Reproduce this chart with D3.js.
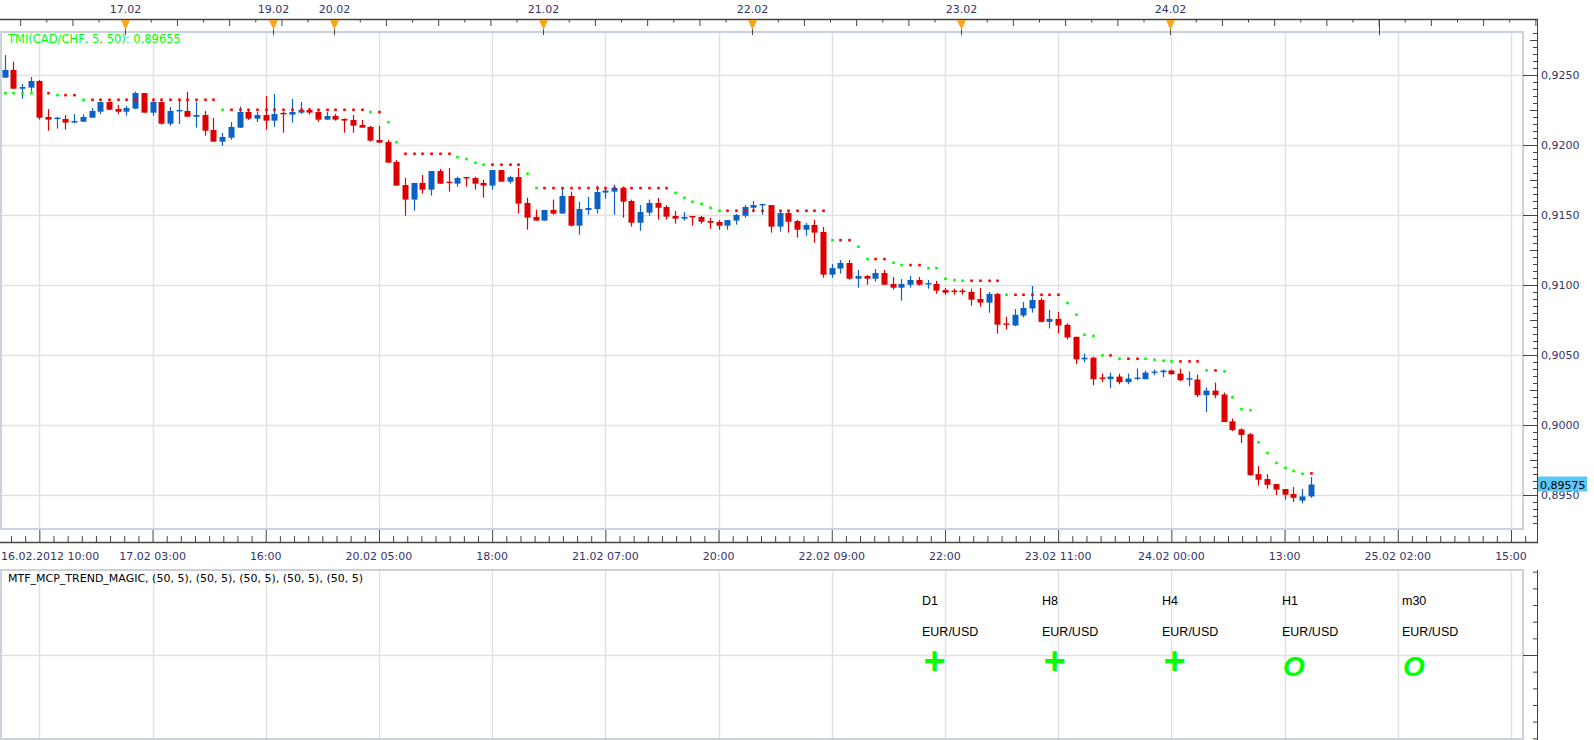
<!DOCTYPE html>
<html>
<head>
<meta charset="utf-8">
<script src="https://cdn.jsdelivr.net/npm/d3@7"></script>
<style>
  body { margin: 0; background: #fff; }
  svg text { font-family: "DejaVu Sans", sans-serif; }
</style>
</head>
<body>
<svg id="chart" width="1594" height="740"></svg>
<script>
// CAD/CHF H1 candles, 16.02.2012 10:00 onwards (bar index 0..150)
const openP = [0.92481,0.92536,0.92402,0.92410,0.92457,0.92200,0.92190,0.92186,0.92160,0.92167,
  0.92195,0.92238,0.92307,0.92257,0.92238,0.92260,0.92371,0.92231,0.92307,0.92152,
  0.92245,0.92243,0.92202,0.92214,0.92107,0.92024,0.92052,0.92124,0.92236,0.92188,
  0.92214,0.92174,0.92229,0.92217,0.92231,0.92250,0.92236,0.92181,0.92207,0.92186,
  0.92179,0.92143,0.92129,0.92036,0.92021,0.91879,0.91714,0.91610,0.91729,0.91681,
  0.91814,0.91738,0.91724,0.91771,0.91764,0.91729,0.91710,0.91821,0.91738,0.91771,
  0.91586,0.91486,0.91460,0.91536,0.91510,0.91636,0.91424,0.91536,0.91543,0.91660,
  0.91667,0.91693,0.91600,0.91445,0.91517,0.91586,0.91557,0.91493,0.91474,0.91493,
  0.91486,0.91457,0.91450,0.91424,0.91460,0.91495,0.91552,0.91574,0.91571,0.91417,
  0.91514,0.91457,0.91395,0.91429,0.91379,0.91074,0.91117,0.91157,0.91045,0.91064,
  0.91045,0.91086,0.91007,0.90981,0.91002,0.91036,0.91007,0.91007,0.90964,0.90960,
  0.90960,0.90950,0.90900,0.90874,0.90936,0.90725,0.90711,0.90782,0.90832,0.90893,
  0.90737,0.90758,0.90716,0.90630,0.90469,0.90481,0.90339,0.90327,0.90346,0.90306,
  0.90334,0.90327,0.90372,0.90377,0.90389,0.90367,0.90327,0.90325,0.90213,0.90246,
  0.90218,0.90026,0.89969,0.89934,0.89649,0.89614,0.89578,0.89543,0.89507,0.89460,
  0.89490];
const highP = [0.92643,0.92595,0.92436,0.92486,0.92464,0.92257,0.92200,0.92214,0.92221,0.92219,
  0.92264,0.92310,0.92312,0.92286,0.92279,0.92381,0.92371,0.92314,0.92310,0.92271,
  0.92321,0.92379,0.92310,0.92243,0.92193,0.92086,0.92164,0.92274,0.92250,0.92236,
  0.92350,0.92364,0.92236,0.92329,0.92307,0.92264,0.92240,0.92236,0.92221,0.92190,
  0.92214,0.92179,0.92136,0.92136,0.92036,0.91893,0.91764,0.91729,0.91786,0.91814,
  0.91829,0.91836,0.91774,0.91771,0.91774,0.91750,0.91821,0.91821,0.91779,0.91836,
  0.91624,0.91538,0.91536,0.91610,0.91695,0.91667,0.91595,0.91629,0.91710,0.91688,
  0.91717,0.91702,0.91610,0.91571,0.91610,0.91621,0.91571,0.91529,0.91521,0.91493,
  0.91493,0.91479,0.91464,0.91464,0.91507,0.91571,0.91600,0.91579,0.91571,0.91529,
  0.91521,0.91464,0.91443,0.91464,0.91414,0.91150,0.91179,0.91179,0.91107,0.91071,
  0.91114,0.91107,0.91057,0.91043,0.91064,0.91057,0.91036,0.91029,0.90979,0.90974,
  0.90974,0.90974,0.90979,0.90950,0.90945,0.90773,0.90829,0.90879,0.90993,0.90908,
  0.90822,0.90808,0.90725,0.90630,0.90509,0.90488,0.90367,0.90374,0.90367,0.90367,
  0.90403,0.90389,0.90396,0.90396,0.90396,0.90403,0.90382,0.90360,0.90268,0.90303,
  0.90232,0.90047,0.89976,0.89943,0.89706,0.89649,0.89578,0.89543,0.89557,0.89543,
  0.89628];
const lowP = [0.92481,0.92402,0.92331,0.92381,0.92181,0.92102,0.92117,0.92110,0.92157,0.92164,
  0.92195,0.92221,0.92248,0.92221,0.92210,0.92257,0.92231,0.92210,0.92145,0.92138,
  0.92150,0.92200,0.92124,0.92067,0.92024,0.91995,0.92038,0.92121,0.92179,0.92164,
  0.92110,0.92131,0.92088,0.92160,0.92221,0.92217,0.92167,0.92181,0.92174,0.92088,
  0.92088,0.92124,0.92024,0.92017,0.91874,0.91710,0.91495,0.91531,0.91652,0.91638,
  0.91721,0.91667,0.91702,0.91702,0.91681,0.91624,0.91681,0.91738,0.91724,0.91510,
  0.91395,0.91460,0.91460,0.91502,0.91510,0.91417,0.91360,0.91502,0.91510,0.91617,
  0.91502,0.91481,0.91417,0.91388,0.91495,0.91467,0.91467,0.91438,0.91460,0.91424,
  0.91438,0.91402,0.91395,0.91395,0.91431,0.91481,0.91529,0.91502,0.91374,0.91381,
  0.91374,0.91338,0.91352,0.91302,0.91052,0.91052,0.91081,0.91038,0.90981,0.91002,
  0.91024,0.91002,0.90967,0.90888,0.90981,0.90995,0.90974,0.90938,0.90931,0.90931,
  0.90931,0.90852,0.90845,0.90802,0.90652,0.90682,0.90706,0.90768,0.90803,0.90732,
  0.90690,0.90654,0.90611,0.90434,0.90448,0.90284,0.90306,0.90263,0.90291,0.90291,
  0.90320,0.90327,0.90355,0.90341,0.90358,0.90313,0.90277,0.90199,0.90092,0.90192,
  0.90021,0.89957,0.89872,0.89637,0.89566,0.89545,0.89498,0.89467,0.89450,0.89440,
  0.89480];
const closeP = [0.92536,0.92402,0.92414,0.92457,0.92195,0.92181,0.92195,0.92160,0.92171,0.92200,
  0.92243,0.92307,0.92252,0.92238,0.92264,0.92371,0.92231,0.92307,0.92152,0.92243,
  0.92250,0.92202,0.92214,0.92102,0.92024,0.92057,0.92129,0.92236,0.92188,0.92214,
  0.92174,0.92221,0.92224,0.92236,0.92250,0.92231,0.92181,0.92207,0.92181,0.92174,
  0.92138,0.92124,0.92031,0.92017,0.91874,0.91710,0.91610,0.91729,0.91681,0.91814,
  0.91724,0.91733,0.91764,0.91767,0.91724,0.91710,0.91821,0.91738,0.91771,0.91581,
  0.91481,0.91460,0.91536,0.91510,0.91636,0.91424,0.91543,0.91550,0.91664,0.91674,
  0.91693,0.91595,0.91445,0.91521,0.91586,0.91552,0.91488,0.91474,0.91486,0.91488,
  0.91452,0.91445,0.91424,0.91464,0.91500,0.91557,0.91571,0.91579,0.91417,0.91514,
  0.91452,0.91395,0.91429,0.91374,0.91074,0.91121,0.91157,0.91045,0.91064,0.91045,
  0.91086,0.91002,0.90981,0.91007,0.91036,0.91002,0.91014,0.90960,0.90945,0.90955,
  0.90955,0.90895,0.90874,0.90936,0.90717,0.90720,0.90787,0.90836,0.90893,0.90737,
  0.90758,0.90711,0.90626,0.90469,0.90481,0.90327,0.90334,0.90346,0.90306,0.90332,
  0.90339,0.90374,0.90382,0.90389,0.90363,0.90320,0.90334,0.90213,0.90246,0.90213,
  0.90021,0.89964,0.89929,0.89642,0.89609,0.89573,0.89538,0.89502,0.89480,0.89490,
  0.89575];

// Trend Magic level per bar and its colour (1 = green, 0 = red)
const tmiLevel = [0.92371,0.92371,0.92371,0.92371,0.92371,0.92371,0.92357,0.92357,0.92357,0.92324,
  0.92324,0.92324,0.92324,0.92324,0.92324,0.92324,0.92324,0.92324,0.92324,0.92324,
  0.92324,0.92324,0.92324,0.92324,0.92324,0.92252,0.92252,0.92252,0.92252,0.92252,
  0.92252,0.92252,0.92252,0.92252,0.92252,0.92252,0.92252,0.92252,0.92252,0.92252,
  0.92252,0.92252,0.92236,0.92236,0.92164,0.92021,0.91938,0.91938,0.91938,0.91938,
  0.91938,0.91938,0.91914,0.91900,0.91874,0.91860,0.91860,0.91860,0.91860,0.91860,
  0.91795,0.91693,0.91693,0.91693,0.91693,0.91693,0.91693,0.91693,0.91693,0.91693,
  0.91693,0.91693,0.91693,0.91693,0.91693,0.91693,0.91693,0.91659,0.91624,0.91595,
  0.91581,0.91552,0.91531,0.91531,0.91531,0.91531,0.91531,0.91531,0.91531,0.91531,
  0.91531,0.91531,0.91531,0.91531,0.91531,0.91321,0.91321,0.91321,0.91274,0.91186,
  0.91186,0.91186,0.91160,0.91143,0.91143,0.91143,0.91121,0.91121,0.91045,0.91036,
  0.91031,0.91031,0.91031,0.91031,0.91031,0.90931,0.90931,0.90931,0.90931,0.90931,
  0.90931,0.90931,0.90872,0.90789,0.90645,0.90637,0.90498,0.90498,0.90474,0.90474,
  0.90474,0.90474,0.90467,0.90460,0.90455,0.90455,0.90455,0.90455,0.90391,0.90391,
  0.90384,0.90199,0.90114,0.90107,0.89877,0.89801,0.89730,0.89694,0.89673,0.89652,
  0.89655];
const tmiUp = [1,1,1,1,0,0,1,0,0,1, 0,0,0,0,0,0,0,0,0,0, 0,0,0,0,0,1,0,0,0,0,
  0,0,0,0,0,0,0,0,0,0, 0,0,1,0,1,1,0,0,0,0, 0,0,1,1,1,1,0,0,0,0,
  1,1,0,0,0,0,0,0,0,0, 0,0,0,0,0,0,0,1,1,1, 1,1,1,0,0,0,0,0,0,0,
  0,0,0,0,0,1,0,0,1,1, 0,0,1,1,0,0,1,1,1,1, 1,0,0,0,0,1,0,0,0,0,
  0,0,1,1,1,1,1,0,1,0, 0,1,1,1,1,0,0,0,1,0, 1,1,1,1,1,1,1,1,1,1, 0];

// time axis
const gridBars = [4,17,30,43,56,69,82,95,108,121,134,147,160,173];
const timeLabels = ["16.02.2012 10:00","17.02 03:00","16:00","20.02 05:00","18:00","21.02 07:00",
  "20:00","22.02 09:00","22:00","23.02 11:00","24.02 00:00","13:00","25.02 02:00","15:00"];
const dayBars = [14,31,38,62,86,110,134,158];
const dayLabels = ["17.02","19.02","20.02","21.02","22.02","23.02","24.02",""];

// price axis
const priceTicks = [0.895,0.900,0.905,0.910,0.915,0.920,0.925];
const lastPrice = 0.89575;
const tmiTitle = "TMI(CAD/CHF, 5, 50): 0,89655";

// lower panel
const subTitle = "MTF_MCP_TREND_MAGIC, (50, 5), (50, 5), (50, 5), (50, 5), (50, 5)";
const tfLabels = ["D1","H8","H4","H1","m30"];
const pairLabel = "EUR/USD";
const signals = ["+","+","+","O","O"];

// ---------------------------------------------------------------
const svg = d3.select("#chart");
const loc = d3.formatLocale({decimal: ",", thousands: " ", grouping: [3], currency: ["", ""]});
const fmt4 = loc.format(".4f"), fmt5 = loc.format(".5f");

const P = {l: 0, r: 1523, t: 32, b: 529};   // price panel
const S = {t: 570, b: 739};                 // indicator panel
const AX = 1537;                            // right axis line
const navy = "#33336b", grid = "#e1e1e1", frame = "#cbd2dc";
const upCol = "#0a62c4", dnCol = "#dd0000";

const x = d3.scaleLinear().domain([0, 150]).range([4.5, 1310.7]);
const y = d3.scaleLinear().domain([0.895, 0.925]).range([495, 75]);
const sub = d3.scaleLinear().domain([0, 1]).range([738.3, 571.7]);
const colX = d3.scalePoint().domain(tfLabels).range([922, 1402]);
const px = v => Math.round(v) + 0.5;

const bars = openP.map((o, i) => ({i, o, h: highP[i], l: lowP[i], c: closeP[i]}));

// grid
function vGrid(top, bottom) {
  svg.append("g").selectAll("line").data(gridBars).join("line")
    .attr("x1", d => px(x(d))).attr("x2", d => px(x(d)))
    .attr("y1", top).attr("y2", bottom)
    .attr("stroke", grid).attr("stroke-width", 1.5);
}
vGrid(P.t, P.b);
vGrid(S.t, S.b);
svg.append("g").selectAll("line").data(priceTicks).join("line")
  .attr("x1", P.l).attr("x2", P.r)
  .attr("y1", d => px(y(d))).attr("y2", d => px(y(d)))
  .attr("stroke", grid).attr("stroke-width", 1.5);
svg.append("line").attr("x1", P.l).attr("x2", P.r)
  .attr("y1", px(sub(0.5))).attr("y2", px(sub(0.5)))
  .attr("stroke", grid).attr("stroke-width", 1.5);

// panel frames
svg.append("rect").attr("x", 1).attr("y", P.t).attr("width", P.r - 1).attr("height", P.b - P.t)
  .attr("fill", "none").attr("stroke", frame).attr("stroke-width", 2);
svg.append("rect").attr("x", 1).attr("y", S.t).attr("width", P.r - 1).attr("height", S.b - S.t)
  .attr("fill", "none").attr("stroke", frame).attr("stroke-width", 2);

// candles
svg.append("clipPath").attr("id", "clip").append("rect")
  .attr("x", P.l).attr("y", P.t).attr("width", P.r - P.l).attr("height", P.b - P.t);
const plot = svg.append("g").attr("clip-path", "url(#clip)");
const cg = plot.selectAll("g.bar").data(bars).join("g").attr("class", "bar");
cg.append("line")
  .attr("x1", d => px(x(d.i))).attr("x2", d => px(x(d.i)))
  .attr("y1", d => y(d.h)).attr("y2", d => y(d.l))
  .attr("stroke", d => d.c >= d.o ? upCol : dnCol).attr("stroke-width", 1.2);
cg.append("rect")
  .attr("x", d => Math.round(x(d.i)) - 2.5)
  .attr("width", 6)
  .attr("y", d => y(Math.max(d.o, d.c)))
  .attr("height", d => Math.max(1.4, Math.abs(y(d.o) - y(d.c))))
  .attr("fill", d => d.c >= d.o ? upCol : dnCol);

// trend magic dots
plot.selectAll("rect.tmi").data(tmiLevel).join("rect").attr("class", "tmi")
  .attr("x", (d, i) => Math.round(x(i)) - 0.8).attr("y", d => y(d) - 1.2)
  .attr("width", 2.6).attr("height", 2.6)
  .attr("fill", (d, i) => tmiUp[i] ? "#00ff00" : "#ff0000");

svg.append("text").attr("x", 8).attr("y", 43).attr("font-size", 11.5)
  .attr("fill", "#00ff00").text(tmiTitle);

// right price axis
const minorP = d3.range(17860, 18561, 10).map(v => v / 20000);
const ra = svg.append("g").attr("transform", `translate(${AX},0)`)
  .call(d3.axisLeft(y).tickValues(minorP).tickSize(4).tickFormat(""));
ra.select(".domain").remove();
ra.selectAll(".tick line")
  .attr("x2", d => {
    const k = Math.round(d * 20000) % 100;
    return k === 0 ? -(AX - P.r) : (k === 50 ? -7 : -4);
  })
  .attr("stroke", "#444");
svg.append("line").attr("x1", AX + 0.5).attr("x2", AX + 0.5).attr("y1", 19).attr("y2", 542)
  .attr("stroke", "#444");
const rl = svg.append("g").attr("transform", `translate(${AX},0)`)
  .call(d3.axisRight(y).tickValues(priceTicks).tickSize(0).tickPadding(4).tickFormat(fmt4));
rl.select(".domain").remove();
rl.selectAll("text").attr("font-size", 11).attr("fill", navy)
  .attr("font-family", "DejaVu Sans");

// current price tag
svg.append("rect").attr("x", AX + 1).attr("y", y(lastPrice) - 8).attr("width", 49).attr("height", 15)
  .attr("fill", "#5cc6f7");
svg.append("text").attr("x", AX + 3).attr("y", y(lastPrice) + 4).attr("font-size", 11)
  .attr("fill", "#000").text(fmt5(lastPrice));

// top date axis
const topTicks = d3.range(0, 59).map(k => ({b: 1.8 + 3 * k, major: k % 2 === 0}));
const ta = svg.append("g").attr("transform", "translate(0,19)")
  .call(d3.axisBottom(x).tickValues(topTicks.map(t => t.b)).tickSize(4).tickFormat(""));
ta.select(".domain").remove();
ta.selectAll(".tick line").attr("y2", (d, i) => topTicks[i].major ? 7 : 3.5).attr("stroke", "#444");
svg.append("line").attr("x1", 0).attr("x2", AX + 1).attr("y1", 19.5).attr("y2", 19.5)
  .attr("stroke", "#444").attr("stroke-width", 1.5);

const days = dayBars.map((b, i) => ({b: b - 0.15, label: dayLabels[i]}));
const dg = svg.append("g").selectAll("g").data(days).join("g")
  .attr("transform", d => `translate(${px(x(d.b))},0)`);
dg.append("line").attr("y1", 19).attr("y2", 35).attr("stroke", "#444");
dg.filter(d => d.label).append("path")
  .attr("d", "M-4.5,20 L4.5,20 L0,30 Z").attr("fill", "#f7a51c");
dg.filter(d => d.label).append("text").attr("y", 13).attr("text-anchor", "middle")
  .attr("font-size", 11).attr("fill", navy).text(d => d.label);

// bottom time axis
const botTicks = d3.range(-2, 108).map(k => ({b: 4 + k * 13 / 8, major: k % 8 === 0}))
  .filter(t => x(t.b) > 0 && x(t.b) < AX);
const ba = svg.append("g").attr("transform", "translate(0,542)")
  .call(d3.axisTop(x).tickValues(botTicks.map(t => t.b)).tickSize(6).tickFormat(""));
ba.select(".domain").remove();
ba.selectAll(".tick line").attr("y2", (d, i) => botTicks[i].major ? -12 : -6).attr("stroke", "#444");
svg.append("line").attr("x1", 0).attr("x2", AX + 1).attr("y1", 542.5).attr("y2", 542.5)
  .attr("stroke", "#444").attr("stroke-width", 1.5);
svg.append("g").selectAll("text").data(gridBars).join("text")
  .attr("x", (d, i) => i === 0 ? 1 : x(d))
  .attr("text-anchor", (d, i) => i === 0 ? "start" : "middle")
  .attr("y", 560).attr("font-size", 11).attr("fill", navy)
  .text((d, i) => timeLabels[i]);

// indicator panel axis
const sa = svg.append("g").attr("transform", `translate(${AX},0)`)
  .call(d3.axisLeft(sub).tickValues(d3.range(0, 11).map(k => k / 10)).tickSize(4).tickFormat(""));
sa.select(".domain").remove();
sa.selectAll(".tick line").attr("x2", d => Math.abs(d - 0.5) < 1e-9 ? -(AX - P.r) : -4).attr("stroke", "#444");
svg.append("line").attr("x1", AX + 0.5).attr("x2", AX + 0.5).attr("y1", S.t).attr("y2", 740)
  .attr("stroke", "#444");

// indicator panel texts
svg.append("text").attr("x", 8).attr("y", 582).attr("font-size", 11).attr("fill", "#000").text(subTitle);
const cols = svg.append("g").selectAll("g").data(tfLabels).join("g")
  .attr("transform", d => `translate(${colX(d)},0)`);
cols.append("text").attr("y", 605).attr("font-size", 12.5).attr("fill", "#000")
  .style("font-family", "'Liberation Sans', Arial, sans-serif").text(d => d);
cols.append("text").attr("y", 636).attr("font-size", 12.5).attr("fill", "#000")
  .style("font-family", "'Liberation Sans', Arial, sans-serif").text(pairLabel);
cols.append("text")
  .attr("x", (d, i) => signals[i] === "+" ? 12.5 : 12)
  .attr("y", (d, i) => signals[i] === "+" ? 674 : 675.5)
  .attr("text-anchor", "middle")
  .attr("font-size", (d, i) => signals[i] === "+" ? 38 : 28)
  .attr("font-weight", "bold")
  .attr("font-style", (d, i) => signals[i] === "+" ? "normal" : "italic")
  .attr("fill", "#00ff00")
  .style("font-family", "'Liberation Sans', Arial, sans-serif")
  .text((d, i) => signals[i]);
</script>
</body>
</html>
